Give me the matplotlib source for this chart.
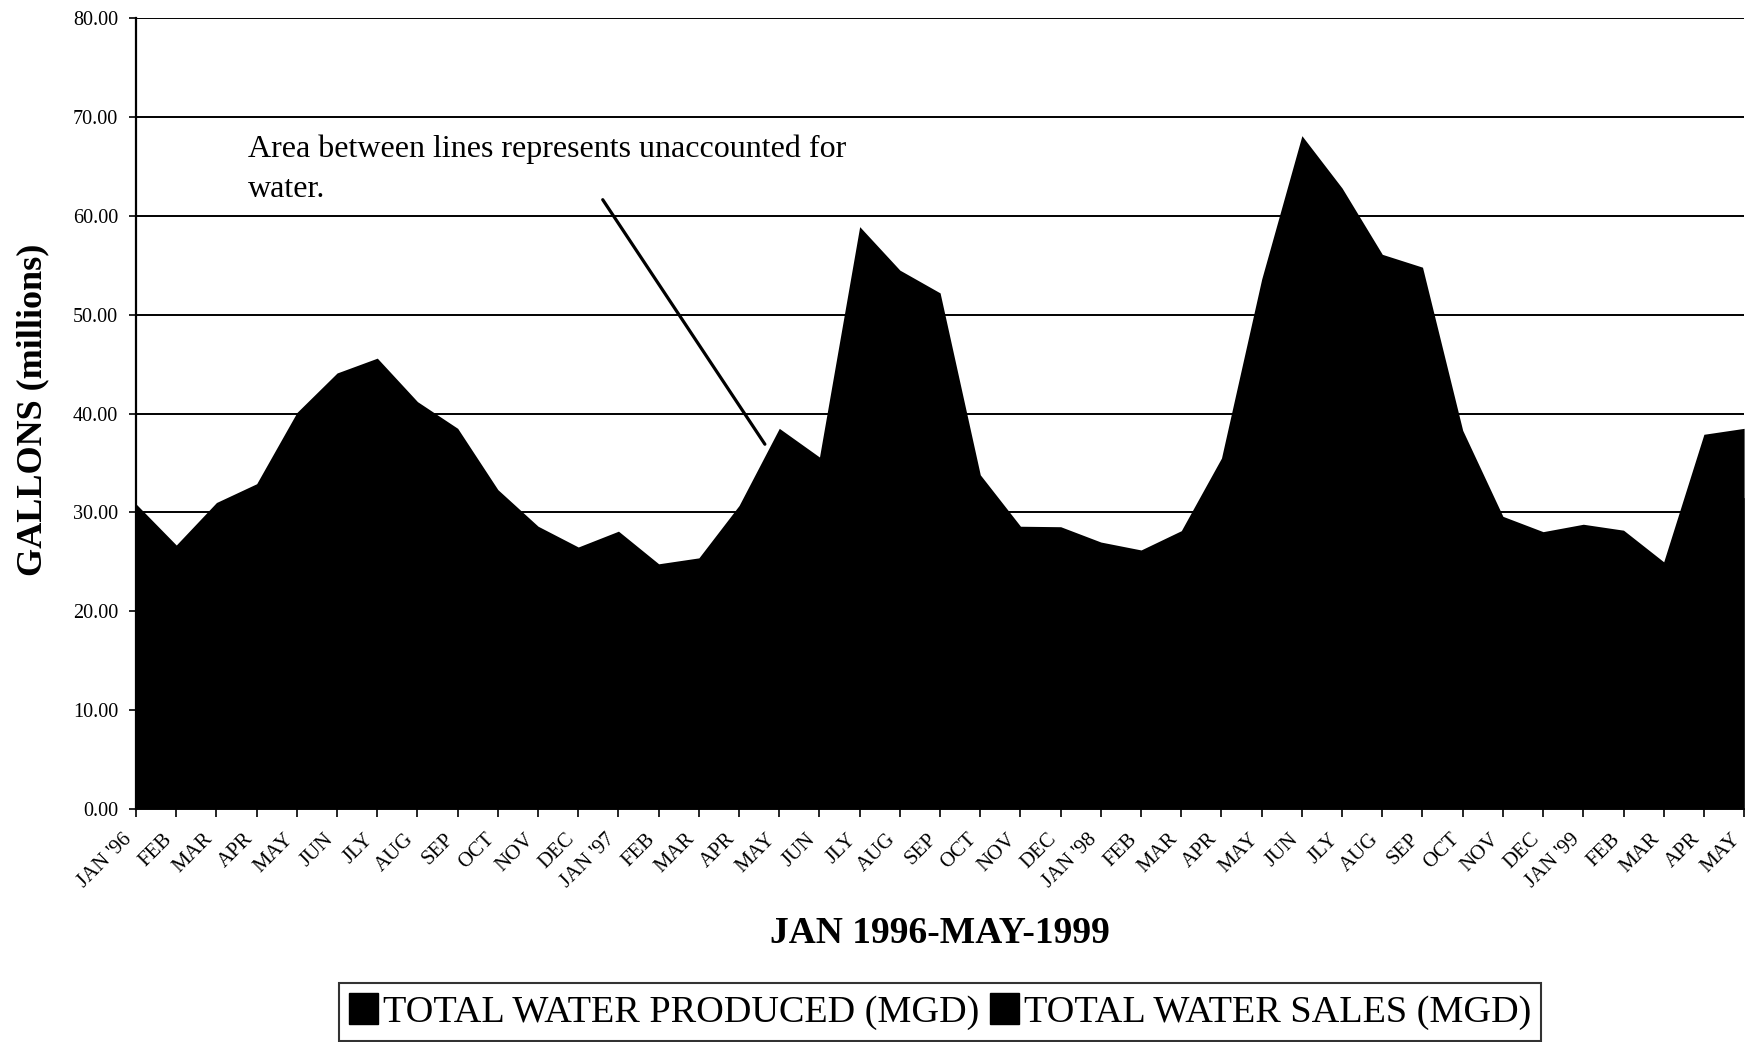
import matplotlib
matplotlib.use("Agg")
import matplotlib.pyplot as plt
from matplotlib.patches import Patch
from matplotlib.transforms import ScaledTranslation

# Monthly totals, Jan 1996 - May 1999 (million gallons per day)
months = ["JAN '96", "FEB", "MAR", "APR", "MAY", "JUN", "JLY", "AUG", "SEP", "OCT", "NOV", "DEC",
          "JAN '97", "FEB", "MAR", "APR", "MAY", "JUN", "JLY", "AUG", "SEP", "OCT", "NOV", "DEC",
          "JAN '98", "FEB", "MAR", "APR", "MAY", "JUN", "JLY", "AUG", "SEP", "OCT", "NOV", "DEC",
          "JAN '99", "FEB", "MAR", "APR", "MAY"]

water_produced = [30.85, 26.7, 31.0, 32.9, 40.1, 44.1, 45.6, 41.2, 38.5, 32.3, 28.6, 26.5,
                  28.1, 24.8, 25.4, 30.7, 38.5, 35.6, 58.9, 54.5, 52.2, 33.8, 28.6, 28.55,
                  27.0, 26.2, 28.15, 35.5, 53.6, 68.1, 62.8, 56.1, 54.8, 38.3, 29.6, 28.05,
                  28.8, 28.2, 25.0, 37.9, 38.5]

water_sales = [24.5, 22.0, 25.0, 26.8, 32.5, 36.0, 37.8, 34.0, 31.5, 26.5, 23.5, 22.0,
               23.0, 20.5, 21.0, 25.0, 31.0, 29.5, 48.0, 45.0, 43.0, 28.0, 23.5, 23.5,
               22.0, 21.5, 23.0, 29.0, 44.0, 56.0, 52.0, 46.5, 45.0, 31.5, 24.5, 23.0,
               23.5, 23.0, 20.5, 31.0, 31.5]

y_ticks = [0, 10, 20, 30, 40, 50, 60, 70, 80]

serif = ["Liberation Serif", "DejaVu Serif"]
plt.rcParams["font.family"] = serif

fig = plt.figure(figsize=(17.49, 10.42), dpi=100)
ax = fig.add_axes([0.0778, 0.2236, 0.9194, 0.7591])

x = list(range(len(months)))
ax.fill_between(x, water_produced, 0, color="black", linewidth=0, zorder=2)
ax.fill_between(x, water_sales, 0, color="black", linewidth=0, zorder=3)

ax.set_xlim(0, len(months) - 1)
ax.set_ylim(0, 80)
ax.set_yticks(y_ticks)
ax.set_yticklabels([f"{v:.2f}" for v in y_ticks], fontsize=14.5)
ax.set_xticks(x)
ax.set_xticklabels(months, fontsize=15, rotation=45, ha="right", va="top")
shift = ScaledTranslation(3 / 100, 0, fig.dpi_scale_trans)
for lbl in ax.get_xticklabels():
    lbl.set_transform(lbl.get_transform() + shift)

ax.yaxis.grid(True, color="black", linewidth=1.4, zorder=1)
ax.set_axisbelow(True)
for side in ("top", "right"):
    ax.spines[side].set_visible(False)
ax.spines["left"].set_linewidth(1.6)
ax.spines["bottom"].set_linewidth(1.2)
ax.tick_params(axis="y", direction="out", length=5, width=1.2, pad=8)
ax.tick_params(axis="x", direction="out", length=6, width=1.2, pad=9)

# Annotation with leader line
ax.text(2.78, 64.7, "Area between lines represents unaccounted for\nwater.",
        fontsize=23, ha="left", va="center", linespacing=1.5, zorder=5)
ax.annotate("", xy=(15.68, 36.66), xytext=(11.57, 61.86),
            arrowprops=dict(arrowstyle="-", color="black", lw=2.3), zorder=5)

fig.text(0.019, 0.6065, "GALLONS (millions)", rotation=90, ha="center", va="center",
         fontsize=26, fontweight="bold")
fig.text(0.5375, 0.1045, "JAN 1996-MAY-1999", ha="center", va="center",
         fontsize=27, fontweight="bold")

handles = [Patch(facecolor="black", edgecolor="black"),
           Patch(facecolor="black", edgecolor="black")]
leg = fig.legend(handles, ["TOTAL WATER PRODUCED (MGD)", "TOTAL WATER SALES (MGD)"],
                 loc="center", bbox_to_anchor=(0.5375, 0.029), ncol=2, fontsize=27.5,
                 frameon=True, fancybox=False, handlelength=0.75, handleheight=0.85,
                 handletextpad=0.12, columnspacing=0.3, borderpad=0.28, borderaxespad=0)
leg.get_frame().set_edgecolor("black")
leg.get_frame().set_linewidth(1.5)

fig.savefig("out.png", dpi=100, facecolor="white")
